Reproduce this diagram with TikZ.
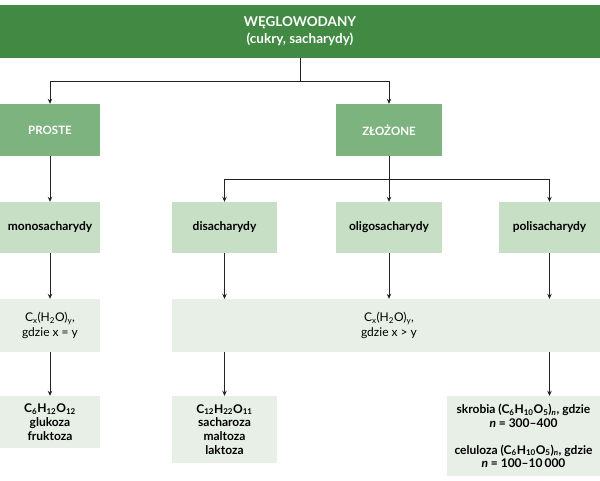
\documentclass[tikz,border=0pt]{standalone}
\usepackage{fontspec}
\setmainfont{Lato}
\usetikzlibrary{arrows.meta}
\definecolor{gdark}{HTML}{428A43}
\definecolor{gmid}{HTML}{7DB37E}
\definecolor{glight}{HTML}{C6DFC5}
\definecolor{gpale}{HTML}{E7EFE6}
\definecolor{lineC}{HTML}{222222}
\tikzset{
  box/.style={draw=none, align=center, inner sep=2pt, font=\fontsize{12}{14.5}\selectfont},
  topbox/.style={box, fill=gdark, text=white, font=\fontsize{13.5}{17}\selectfont\bfseries},
  midbox/.style={box, fill=gmid, text=white, font=\fontsize{11.5}{14}\selectfont\bfseries},
  catbox/.style={box, fill=glight, text=black, font=\fontsize{12}{14}\selectfont\bfseries},
  formbox/.style={box, fill=gpale, text=black},
  exbox/.style={box, fill=gpale, text=black, font=\fontsize{12}{13.8}\selectfont\bfseries},
  conn/.style={draw=lineC, line width=0.7pt},
  arr/.style={conn, -{Stealth[length=5pt,width=4.5pt]}}
}
\begin{document}
\begin{tikzpicture}[x=1pt,y=-1pt]
\useasboundingbox (0,0) rectangle (600,480);
\node[topbox, minimum width=600pt, minimum height=53pt] (top) at (300,31.5) {WĘGLOWODANY\\(cukry, sacharydy)};
\node[midbox, minimum width=100pt, minimum height=52pt] (proste) at (50,130) {PROSTE};
\node[midbox, minimum width=106pt, minimum height=52pt] (zloz) at (389,130) {ZŁOŻONE};
\node[catbox, minimum width=100pt, minimum height=51pt] (mono) at (50,227.5) {monosacharydy};
\node[catbox, minimum width=105pt, minimum height=51pt] (di) at (224.5,227.5) {disacharydy};
\node[catbox, minimum width=106pt, minimum height=51pt] (oligo) at (389,227.5) {oligosacharydy};
\node[catbox, minimum width=101pt, minimum height=51pt] (poli) at (549.5,227.5) {polisacharydy};
\node[formbox, minimum width=100pt, minimum height=53pt] (f1) at (50,325.5) {C\textsubscript{x}(H\textsubscript{2}O)\textsubscript{y},\\gdzie x = y};
\node[formbox, minimum width=428pt, minimum height=53pt] (f2) at (386,325.5) {};
\node[formbox, align=center] (f2t) at (389,325.5) {C\textsubscript{x}(H\textsubscript{2}O)\textsubscript{y},\\gdzie x > y};
\node[exbox, minimum width=100pt, minimum height=52pt] (b1) at (50,422) {C\textsubscript{6}H\textsubscript{12}O\textsubscript{12}\\glukoza\\fruktoza};
\node[exbox, minimum width=105pt, minimum height=67pt] (b2) at (224.5,429.5) {C\textsubscript{12}H\textsubscript{22}O\textsubscript{11}\\sacharoza\\maltoza\\laktoza};
\node[exbox, minimum width=153pt, minimum height=80pt] (b3) at (523.5,436) {skrobia (C\textsubscript{6}H\textsubscript{10}O\textsubscript{5})\textsubscript{\textit{n}}, gdzie\\\textit{n} = 300–400\\[13pt]celuloza (C\textsubscript{6}H\textsubscript{10}O\textsubscript{5})\textsubscript{\textit{n}}, gdzie\\\textit{n} = 100–10\,000};
% level 1
\coordinate (j1) at (300,81);
\draw[conn] (top.south) -- (j1);
\draw[arr] (j1) -| (proste.north);
\draw[arr] (j1) -| (zloz.north);
% level 2
\coordinate (j2) at (389,179);
\draw[conn] (zloz.south) -- (j2);
\draw[arr] (j2) -| (di.north);
\draw[arr] (zloz.south) -- (oligo.north);
\draw[arr] (j2) -| (poli.north);
\draw[arr] (proste.south) -- (mono.north);
% level 3
\draw[arr] (mono.south) -- (f1.north);
\draw[arr] (di.south) -- (di.south |- f2.north);
\draw[arr] (oligo.south) -- (oligo.south |- f2.north);
\draw[arr] (poli.south) -- (poli.south |- f2.north);
% level 4
\draw[arr] (f1.south) -- (b1.north);
\draw[arr] (di.south |- f2.south) -- (b2.north);
\draw[arr] (poli.south |- f2.south) -- (poli.south |- b3.north);
\end{tikzpicture}
\end{document}
